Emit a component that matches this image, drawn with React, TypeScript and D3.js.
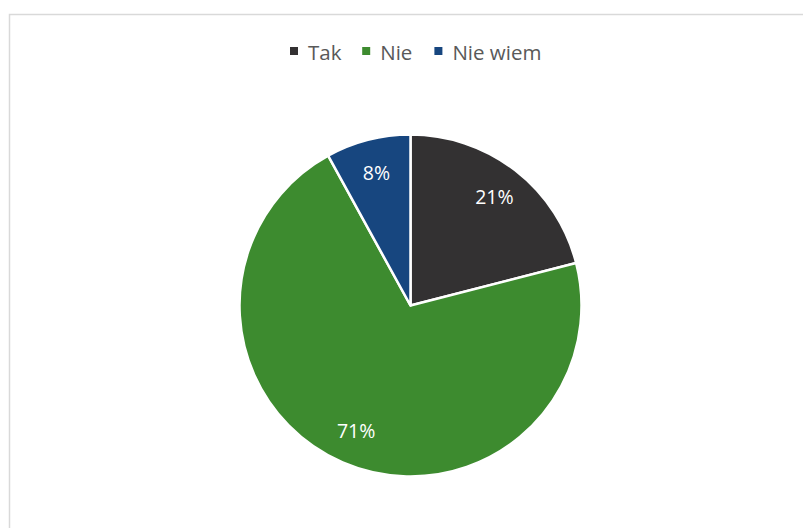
import React from "react";
import * as d3 from "d3";

const categories = ["Tak", "Nie", "Nie wiem"];
const values = [21, 71, 8];
const colors = ["#333132", "#3d8b2f", "#17467f"];

const W = 803;
const H = 528;
const cx = 410.5;
const cy = 305.5;
const R = 171;

export default function App() {
  const pie = d3.pie<number>().sort(null).value((d) => d)(values);
  const arc = d3.arc<d3.PieArcDatum<number>>().innerRadius(0).outerRadius(R);
  const labelArc = d3.arc<d3.PieArcDatum<number>>().innerRadius(R * 0.8).outerRadius(R * 0.8);
  const total = d3.sum(values);

  const legendFont = 20.5;
  const measure = (t: string) => t.length * 10.4;
  const gap = 23;
  const sq = 8;
  const widths = categories.map((t) => sq + 10 + measure(t));
  let lx = 290;
  const legendPos = widths.map((w) => {
    const p = lx;
    lx += w + gap;
    return p;
  });

  return (
    <svg width={W} height={H} style={{ position: "absolute", left: 0, top: 0 }}>
      <rect x={0} y={0} width={W} height={H} fill="#fff" />
      <rect x={9.5} y={14.5} width={W} height={H} fill="#fff" stroke="#d9d9d9" strokeWidth={1.5} />
      <g fontFamily="'Open Sans', 'Noto Sans', sans-serif">
        {categories.map((t, i) => (
          <g key={t} transform={`translate(${legendPos[i]},0)`}>
            <rect x={0} y={47} width={sq} height={sq} fill={colors[i]} />
            <text x={sq + 10} y={60} fontSize={legendFont} fill="#595959">
              {t}
            </text>
          </g>
        ))}
      </g>
      <g transform={`translate(${cx},${cy})`}>
        {pie.map((p, i) => (
          <path key={i} d={arc(p) || ""} fill={colors[i]} stroke="#fff" strokeWidth={2.5} strokeLinejoin="round" />
        ))}
        {pie.map((p, i) => {
          const [x, y] = labelArc.centroid(p);
          return (
            <text
              key={"l" + i}
              x={x}
              y={y}
              dy="0.35em"
              textAnchor="middle"
              fontSize={19.5}
              fill="#fff"
              fontFamily="'Open Sans', 'Noto Sans', sans-serif"
            >
              {Math.round((p.data / total) * 100)}%
            </text>
          );
        })}
      </g>
    </svg>
  );
}
